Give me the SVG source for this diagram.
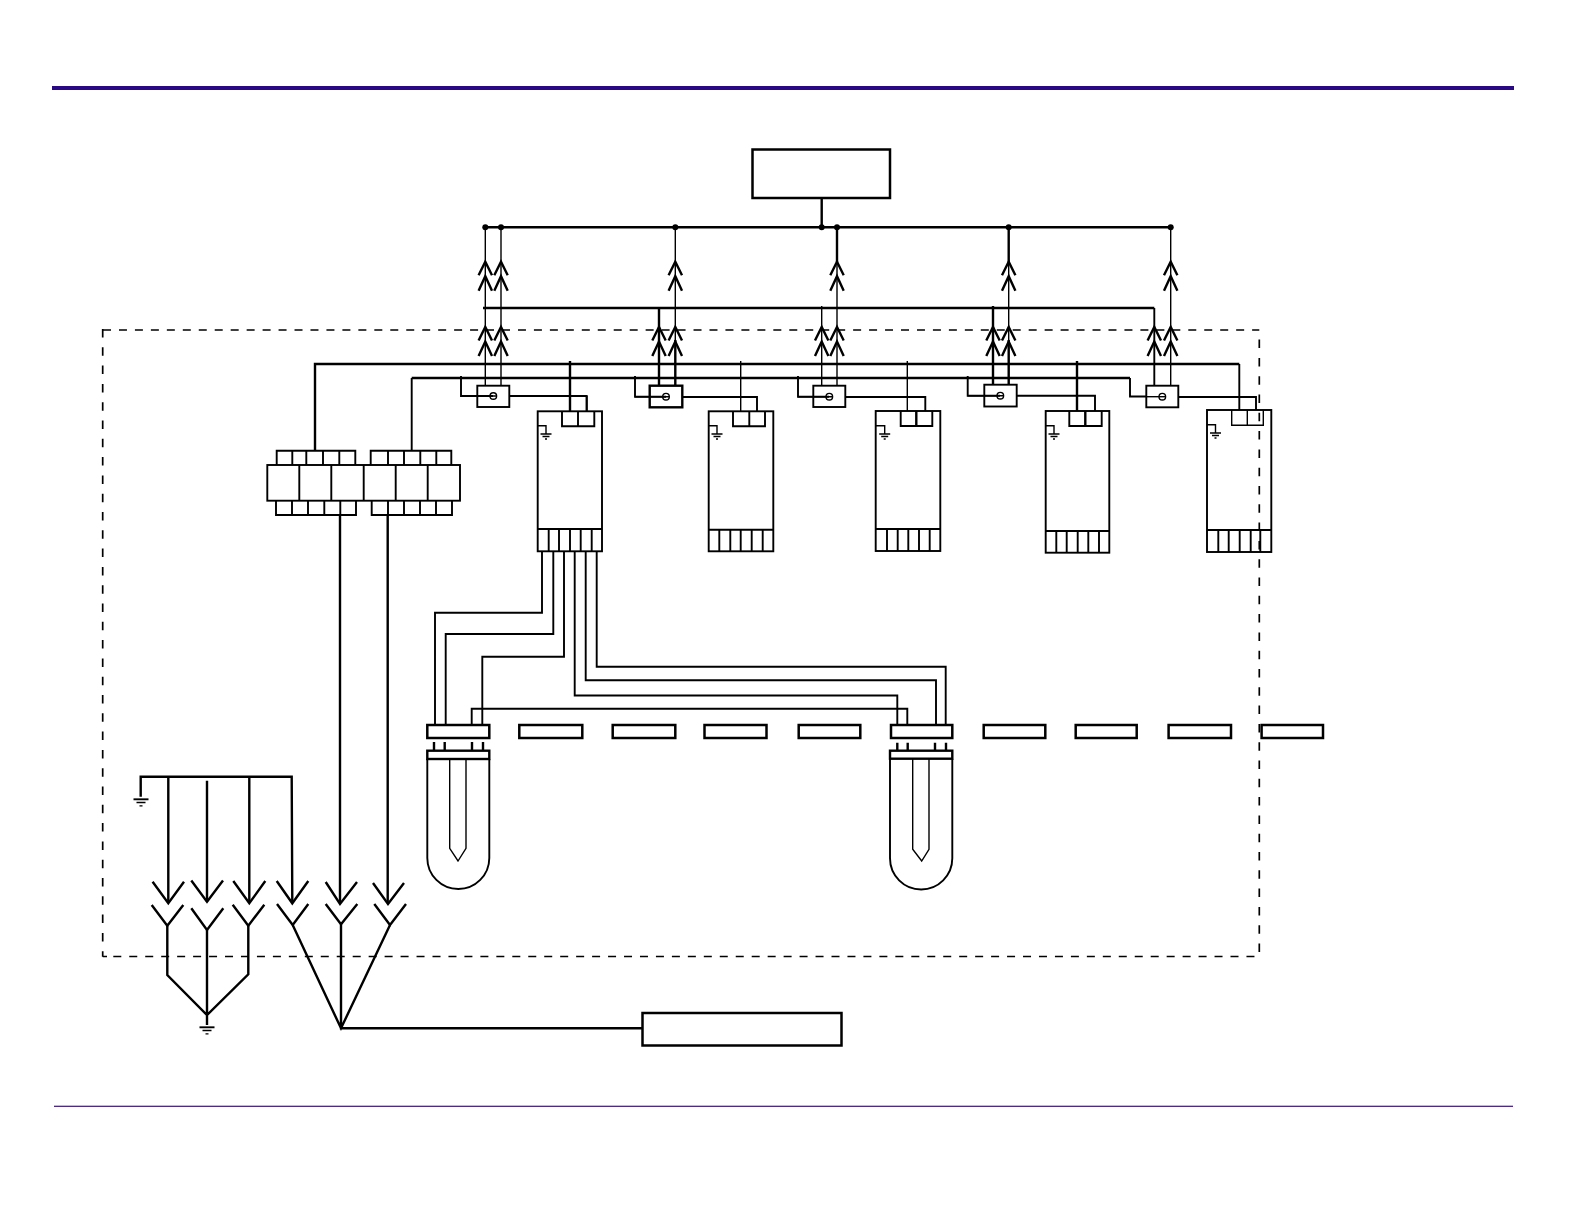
<svg xmlns="http://www.w3.org/2000/svg" width="1584" height="1224" viewBox="0 0 1584 1224">
<defs>
<style>
.w{fill:none;stroke:#000;stroke-width:1.4}
.m{fill:none;stroke:#000;stroke-width:1.9}
.t{fill:none;stroke:#000;stroke-width:2.4}
.b{fill:#fff;stroke:#000;stroke-width:1.9}
.h{fill:#fff;stroke:#000;stroke-width:2.5}
.d{fill:#000}
.nh{fill:none;stroke:#000;stroke-width:1.7;stroke-dasharray:8 7.96}
.nv{fill:none;stroke:#000;stroke-width:1.7;stroke-dasharray:8.5 9.8}
</style>
<g id="up"><path class="t" d="M-6.7 13.5L0 0L6.7 13.5M-6.7 29L0 14.5L6.7 29"/></g>
<g id="gnd"><path class="m" d="M-7.5 0H7.5"/><path class="w" d="M-4.5 3.2H4.5M-1.5 6.6H1.5"/></g>
<g id="sg"><path class="w" d="M-5.5 0H5.5M-3.5 2.5H3.5M-1 5H1"/></g>
</defs>
<rect x="52" y="86" width="1462" height="4" fill="#2a0a84"/>
<rect x="54" y="1105.7" width="1459" height="1.2" fill="#3a1470"/>
<g id="boundary">
<path class="nh" d="M103 330H1259.3"/>
<path class="nv" d="M102.7 329V956.7"/>
<path class="nh" d="M113.3 956.5H1255M102.7 956.5H107"/>
<path class="nv" d="M1259.3 952V330"/>
</g>
<g id="connectors">
<path class="t" d="M485.3 227.3H1170.7M821.7 198V227.3"/>
<circle class="d" cx="485.3" cy="227.3" r="3"/><circle class="d" cx="501" cy="227.3" r="3"/><circle class="d" cx="675.3" cy="227.3" r="3"/><circle class="d" cx="821.7" cy="227.3" r="3"/><circle class="d" cx="837" cy="227.3" r="3"/><circle class="d" cx="1008.7" cy="227.3" r="3"/><circle class="d" cx="1170.7" cy="227.3" r="3"/>
<path class="w" d="M485.3 227.3V385.7M501 227.3V385.7M675.3 227.3V340"/>
<path class="t" d="M675.3 340V385.7M659 308V385.7"/>
<path class="w" d="M821.7 306V385.7"/><path class="t" d="M837 227.3V262"/><path class="w" d="M837 262V385.7"/>
<path class="t" d="M1008.7 227.3V262M993 306V385M1008.7 340V385"/><path class="w" d="M1008.7 262V340"/>
<path class="w" d="M1170.7 227.3V385.7"/>
<path class="t" d="M483 308H1154.3"/><path class="m" d="M1154.3 308V385.7"/>
<use href="#up" x="485.3" y="261.7"/><use href="#up" x="501" y="261.7"/><use href="#up" x="675.3" y="261.7"/><use href="#up" x="837" y="261.7"/><use href="#up" x="1008.7" y="261.7"/><use href="#up" x="1170.7" y="261.7"/>
<use href="#up" x="485.3" y="327"/><use href="#up" x="501" y="327"/><use href="#up" x="659" y="327"/><use href="#up" x="675.3" y="327"/><use href="#up" x="821.7" y="327"/><use href="#up" x="837" y="327"/><use href="#up" x="993" y="327"/><use href="#up" x="1008.7" y="327"/><use href="#up" x="1154.3" y="327"/><use href="#up" x="1170.7" y="327"/>
<path class="t" d="M315 450.7V364H1239.3"/><path class="m" d="M1239.3 364V410"/>
<path class="t" d="M411.7 378H1130"/><path class="m" d="M411.7 378V450.7M1130 378V396.5H1146.3"/>
<path class="t" d="M570 361V411M1077 361V411"/>
<path class="w" d="M740.7 361V411M907.3 361V411"/>
<path class="m" d="M461 376V396H493M635 376V396.7H666M798 376V396.7H829M967.7 376V395.7H1000M509.3 396H586.7V411.3M682.3 397H757V411.3M845.3 397H925.3V411M1016.7 395.7H1095V411M1178.3 397H1256V410"/>
<path class="t" d="M340 515V903M387.7 515V903"/>
<path class="m" d="M542 551V612.7H435V725M553.3 551V634H445.7V725M564 551V656.7H482.3V725M574.7 551V695.5H897.3V725M585.7 551V680.3H936V725M596.7 551V666.7H945.7V725"/>
<path class="m" d="M471.7 725V708.7H907.3V725"/>
<path class="t" d="M140.7 796.7V776.7H291.7L292.3 903M168.3 776.7V903M207 780.7V901.7M249.3 776.7V903"/>
<path class="t" d="M152.6 881.7L168.3 903.3L184 881.7M191.3 880.5L207 901.7L223 880.5M233.3 881L249.3 903.3L265.3 881M276.7 881L292.3 903.3L308.3 881M325.7 882L340 904L357 882M373 883L388 904L404 883"/>
<path class="t" d="M151.7 905L167.3 925.7L183.3 905M191.3 908.3L207 930L223.3 908.3M232.7 904.7L248.3 925.7L264.3 904.7M277 904L292.7 925L308.3 904M325.7 904L341 924.3L357.3 904M374.3 904L390 925L406 904"/>
<path class="t" d="M167.3 925.7V975L207 1015L248.3 974.3V925.7M207 930V1025"/>
<path class="t" d="M292.7 925L341 1028.3L390 925M341 924.3V1028.3H642.5"/>
</g>
<use href="#gnd" x="141" y="799.3"/><use href="#gnd" x="207" y="1027.3"/>
<g id="system-box"><rect class="h" x="752.5" y="149.5" width="137.5" height="48.5"/></g>
<g id="output-box"><rect class="h" x="642.5" y="1013" width="199" height="32.5"/></g>
<g id="relay-1"><rect class="m" x="477.3" y="385.7" width="32" height="21.3" fill="#fff"/><circle class="w" cx="493.3" cy="396" r="3.3"/><path class="w" d="M461 396H496.6"/></g>
<g id="relay-2"><rect class="t" x="649.7" y="385.7" width="32.6" height="21.6" fill="#fff"/><circle class="w" cx="666" cy="396.7" r="3.3"/><path class="w" d="M635 396.7H669.3"/></g>
<g id="relay-3"><rect class="m" x="813.3" y="385.7" width="32" height="21.3" fill="#fff"/><circle class="w" cx="829.3" cy="396.7" r="3.3"/><path class="w" d="M798 396.7H832.6"/></g>
<g id="relay-4"><rect class="m" x="984.3" y="384.7" width="32.4" height="21.8" fill="#fff"/><circle class="w" cx="1000.3" cy="395.7" r="3.3"/><path class="w" d="M967.7 395.7H1003.6"/></g>
<g id="relay-5"><rect class="m" x="1146.3" y="385.7" width="32" height="21.6" fill="#fff"/><circle class="w" cx="1162.3" cy="396.7" r="3.3"/><path class="w" d="M1146.3 396.7H1165.6"/></g>
<g id="driver-1"><rect class="m" x="537.7" y="411.3" width="64.3" height="140"/><path class="m" d="M537.7 529H602M548.7 529V551.3M559 529V551.3M570 529V551.3M580.7 529V551.3M591.7 529V551.3M562 411.3V426.3H594.3V411.3M578 411.3V426.3M570 411.3V361M586.7 411.3V396"/><path class="w" d="M537.7 425.7H546V434"/><use href="#sg" x="546" y="434"/></g>
<g id="driver-2"><rect class="m" x="708.7" y="411.3" width="64.6" height="140"/><path class="m" d="M708.7 529.7H773.3M719.3 529.7V551.3M730.3 529.7V551.3M740.7 529.7V551.3M751.7 529.7V551.3M762.7 529.7V551.3M733 411.3V426.3H765V411.3M749.3 411.3V426.3"/><path class="w" d="M708.7 425.7H717V434"/><use href="#sg" x="717" y="434"/></g>
<g id="driver-3"><rect class="m" x="875.7" y="411" width="64.6" height="140"/><path class="m" d="M875.7 529H940.3M887 529V551M897.7 529V551M908.3 529V551M919 529V551M929.7 529V551M900.7 411V426H932.3V411"/><path class="t" d="M916.3 411V426"/><path class="w" d="M875.7 425.7H884.7V434"/><use href="#sg" x="884.7" y="434"/></g>
<g id="driver-4"><rect class="m" x="1045.7" y="411" width="63.6" height="141.7"/><path class="m" d="M1045.7 531H1109.3M1056.3 531V552.7M1066.7 531V552.7M1077.7 531V552.7M1088.3 531V552.7M1099 531V552.7M1069.3 411V426H1101.7V411"/><path class="t" d="M1085.3 411V426"/><path class="w" d="M1045.7 425.7H1054V434"/><use href="#sg" x="1054" y="434"/></g>
<g id="driver-5"><rect class="m" x="1207" y="410" width="64.3" height="142"/><path class="m" d="M1207 530H1271.3M1218.3 530V552M1228.7 530V552M1239.7 530V552M1250.7 530V552M1260.3 530V552"/><path class="w" d="M1231.7 410V425.3H1263.3V410M1247.3 410V425.3"/><path class="w" d="M1207 424.7H1215.5V433"/><use href="#sg" x="1215.5" y="433"/></g>
<g id="terminal-block"><path class="m" d="M276.7 465V450.7H355.3V465M292.3 450.7V465M306.3 450.7V465M323 450.7V465M339.3 450.7V465M370.7 465V450.7H451.3V465M388 450.7V465M404 450.7V465M420.3 450.7V465M436.3 450.7V465M276 500.7V515H356V500.7M292 500.7V515M308 500.7V515M324.3 500.7V515M340.3 500.7V515M371.7 500.7V515H452V500.7M388 500.7V515M404 500.7V515M420 500.7V515M436 500.7V515"/><rect class="b" x="267.3" y="465" width="192.7" height="35.7"/><path class="m" d="M299.3 465V500.7M331.3 465V500.7M363.7 465V500.7M395.7 465V500.7M427.7 465V500.7"/></g>
<g id="lamp-1"><rect class="h" x="427.3" y="725" width="62" height="13"/><path class="t" d="M434 742V750.7M444.7 742V750.7M472 742V750.7M483 742V750.7"/><rect class="t" x="427.3" y="750.7" width="62" height="8.3"/><path class="m" d="M427.3 759V858A31 31 0 0 0 489.3 858V759"/><path class="w" d="M449.7 759V848.3L458 861L466 848.3V759"/></g>
<g id="lamp-2"><rect class="h" x="891" y="725" width="61.3" height="13"/><path class="t" d="M897.3 742.7V750.7M907.7 742.7V750.7M935 742.7V750.7M946 742.7V750.7"/><rect class="t" x="890" y="750.7" width="62.3" height="8"/><path class="m" d="M890 758.7V858.3A31 31 0 0 0 952.3 858.3V758.7"/><path class="w" d="M912.7 758.7V849.3L921.7 861L929 849.3V758.7"/></g>
<g id="ballast-row"><rect class="h" x="519.3" y="725" width="63" height="13"/><rect class="h" x="612.7" y="725" width="62.6" height="13"/><rect class="h" x="704.5" y="725" width="62" height="13"/><rect class="h" x="798.7" y="725" width="61.6" height="13"/><rect class="h" x="983.7" y="725" width="61.6" height="13"/><rect class="h" x="1075.7" y="725" width="61" height="13"/><rect class="h" x="1168.6" y="725" width="62.4" height="13"/><rect class="h" x="1261.6" y="725" width="61.4" height="13"/></g>
</svg>
